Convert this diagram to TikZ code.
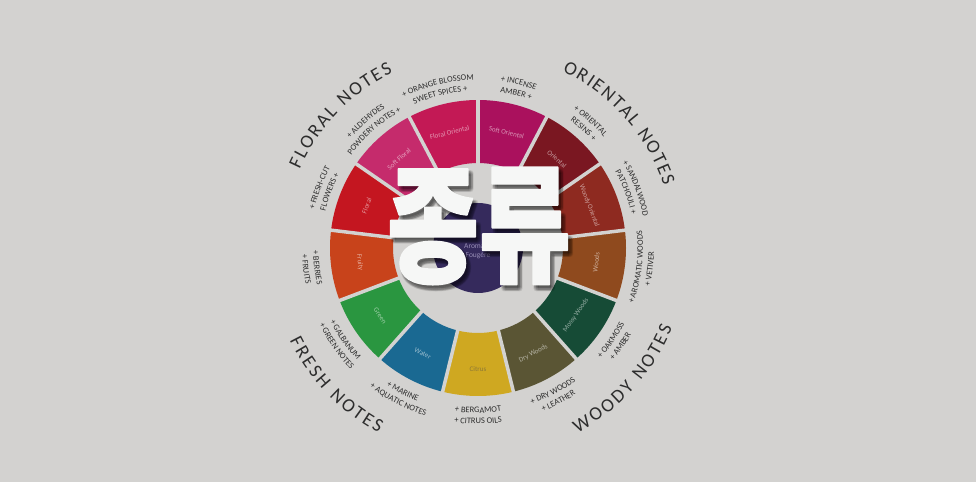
\documentclass[tikz,border=0pt]{standalone}
\usepackage{fontspec}
\setmainfont{Carlito}
\newfontfamily\cjk{Noto Sans CJK KR}[BoldFeatures={FakeBold=1.5}]
\usetikzlibrary{decorations.text}
\definecolor{bg}{RGB}{211,210,208}
\definecolor{cSoftOr}{RGB}{170,17,93}
\definecolor{cOr}{RGB}{122,23,33}
\definecolor{cWoodyOr}{RGB}{142,42,32}
\definecolor{cWoods}{RGB}{143,74,30}
\definecolor{cMossy}{RGB}{22,75,54}
\definecolor{cDry}{RGB}{90,85,52}
\definecolor{cCitrus}{RGB}{207,168,33}
\definecolor{cWater}{RGB}{26,105,146}
\definecolor{cGreen}{RGB}{42,150,64}
\definecolor{cFruity}{RGB}{200,67,27}
\definecolor{cFloral}{RGB}{196,22,32}
\definecolor{cSoftFl}{RGB}{197,43,108}
\definecolor{cFlOr}{RGB}{195,25,85}
\definecolor{cCenter}{RGB}{53,42,92}
\definecolor{inktext}{RGB}{45,45,45}
\definecolor{citruslab}{RGB}{140,120,55}
\definecolor{centerlab}{RGB}{150,140,180}
\definecolor{kwhite}{RGB}{246,247,246}
\newcommand\bigfont{\fontsize{19}{19}\selectfont}
\newcommand\smallfont{\fontsize{8.5}{9}\selectfont}
\newdimen\chw
\newdimen\totw
% letter widths measured once, outside the picture
\newcommand\storew[1]{\setbox0=\hbox{\bigfont #1}\expandafter\xdef\csname lw@\detokenize{#1}\endcsname{\the\wd0}}
\AtBeginDocument{\storew{A}\storew{D}\storew{E}\storew{F}\storew{H}\storew{I}\storew{L}\storew{N}\storew{O}\storew{R}\storew{S}\storew{T}\storew{W}\storew{Y}\storew{~}}
\newcommand\getw[1]{\chw=\csname lw@\detokenize\expandafter{#1}\endcsname\relax}
\tikzset{
  bigletter/.style={anchor=base, inner sep=0pt, font=\bigfont, text=inktext},
  seglabel/.style={font=\fontsize{7}{8}\selectfont, text=white, text opacity=0.55, inner sep=0pt},
  gapline/.style={bg, line width=3.5pt},
  korean/.style={font=\cjk\bfseries\fontsize{128}{128}\selectfont, inner sep=0pt, line join=round},
}
% big curved titles, letter by letter: #1 mid angle, #2 baseline radius, #3 dir, #4 tracking, #5 letters
\newcommand\arcletters[5]{%
  \global\totw=0pt
  \foreach \ch in {#5}{\getw{\ch}\global\advance\totw by \chw\global\advance\totw by #4pt}%
  \global\advance\totw by -#4pt
  \pgfmathsetmacro\tw{\totw}%
  \pgfmathsetmacro\startang{#1 - (#3)*\tw/2/#2*57.29578}%
  \xdef\curang{\startang}%
  \foreach \ch in {#5}{%
    \getw{\ch}%
    \pgfmathsetmacro\w{\chw}%
    \pgfmathsetmacro\midang{\curang + (#3)*\w/2/#2*57.29578}%
    \pgfmathsetmacro\rot{\midang + (#3)*90}%
    \node[bigletter, rotate=\rot] at (\midang:#2) {\ch};
    \pgfmathsetmacro\nx{\curang + (#3)*(\w+#4)/#2*57.29578}%
    \xdef\curang{\nx}%
  }%
}
% small curved two-line notes: #1 angle, #2 text line 1, #3 text line 2
\newcommand\toplab[3]{%
  \path[decorate, decoration={text along path, text={|\smallfont\color{inktext}|#2}, text align=center}]
    (#1+35:168) arc[start angle=#1+35, end angle=#1-35, radius=168];
  \path[decorate, decoration={text along path, text={|\smallfont\color{inktext}|#3}, text align=center}]
    (#1+35:157) arc[start angle=#1+35, end angle=#1-35, radius=157];
}
\newcommand\botlab[3]{%
  \path[decorate, decoration={text along path, text={|\smallfont\color{inktext}|#2}, text align=center}]
    (#1-35:165) arc[start angle=#1-35, end angle=#1+35, radius=165];
  \path[decorate, decoration={text along path, text={|\smallfont\color{inktext}|#3}, text align=center}]
    (#1-35:176) arc[start angle=#1-35, end angle=#1+35, radius=176];
}
\begin{document}
\begin{tikzpicture}[x=1pt,y=1pt]
\useasboundingbox (0,0) rectangle (976,482);
\fill[bg] (0,0) rectangle (976,482);
\begin{scope}[shift={(478,234)}]
  \coordinate (c) at (0,0);
  % segments
  \foreach \col [count=\k from 0] in {cSoftOr,cOr,cWoodyOr,cWoods,cMossy,cDry,cCitrus,cWater,cGreen,cFruity,cFloral,cSoftFl,cFlOr}{
    \pgfmathsetmacro\aa{90-\k*360/13}
    \pgfmathsetmacro\ab{\aa-360/13}
    \fill[\col] (\aa:148) arc[start angle=\aa, end angle=\ab, radius=148] -- (\ab:85) arc[start angle=\ab, end angle=\aa, radius=85] -- cycle;
  }
  \foreach \k in {0,...,12}{
    \pgfmathsetmacro\aa{90-\k*360/13}
    \draw[gapline] (\aa:83) -- (\aa:150);
  }
  % segment labels
  \node[seglabel, rotate=-13.85] (lSoftOr) at (76.15:119) {Soft Oriental};
  \node[seglabel, rotate=-41.54] (lOr) at (48.46:119) {Oriental};
  \node[seglabel, rotate=-69.23] (lWoodyOr) at (20.77:119) {Woody Oriental};
  \node[seglabel, rotate=83.08] (lWoods) at (-6.92:119) {Woods};
  \node[seglabel, rotate=55.38] (lMossy) at (-34.62:119) {Mossy Woods};
  \node[seglabel, rotate=27.69] (lDry) at (-62.31:119) {Dry Woods};
  \node[seglabel, text=citruslab, text opacity=1] (lCitrus) at (-90:121) {Citrus};
  \node[seglabel, rotate=-27.69] (lWater) at (-117.69:119) {Water};
  \node[seglabel, rotate=-55.38] (lGreen) at (-145.38:119) {Green};
  \node[seglabel, rotate=-83.08] (lFruity) at (-173.08:119) {Fruity};
  \node[seglabel, rotate=69.23] (lFloral) at (159.23:119) {Floral};
  \node[seglabel, rotate=41.54] (lSoftFl) at (131.54:119) {Soft Floral};
  \node[seglabel, rotate=13.85] (lFlOr) at (103.85:119) {Floral Oriental};
  % center
  \fill[cCenter] (c) circle[radius=45];
  \node[font=\fontsize{7.5}{9.5}\selectfont, text=centerlab, align=center, inner sep=0pt] (lAro) at (0,-3) {Aromatic\\Fougère};
  % notes
  \toplab{103.85}{+ ORANGE BLOSSOM}{SWEET SPICES +}
  \toplab{76.15}{+ INCENSE}{AMBER +}
  \toplab{48.46}{+ ORIENTAL}{RESINS +}
  \toplab{20.77}{+ SANDALWOOD}{PATCHOULI +}
  \botlab{-6.92}{+ AROMATIC WOODS}{+ VETIVER}
  \botlab{-34.62}{+ OAKMOSS}{+ AMBER}
  \botlab{-62.31}{+ DRY WOODS}{+ LEATHER}
  \botlab{-90}{+ BERGAMOT}{+ CITRUS OILS}
  \botlab{-117.69}{+ MARINE}{+ AQUATIC NOTES}
  \botlab{-145.38}{+ GALBANUM}{+ GREEN NOTES}
  \botlab{-173.08}{+ BERRIES}{+ FRUITS}
  \toplab{159.23}{+ FRESH-CUT}{FLOWERS +}
  \toplab{131.54}{+ ALDEHYDES}{POWDERY NOTES +}
  % titles
  \arcletters{136}{195}{-1}{2.0}{F,L,O,R,A,L,~,N,O,T,E,S}
  \arcletters{41.5}{196}{-1}{1.8}{O,R,I,E,N,T,A,L,~,N,O,T,E,S}
  \arcletters{-136}{210}{1}{2.5}{F,R,E,S,H,~,N,O,T,E,S}
  \arcletters{-42}{210}{1}{2.5}{W,O,O,D,Y,~,N,O,T,E,S}
\end{scope}
% big Korean title with soft shadow
\foreach \dx/\dy in {0/0,2/0,-2/0,0/2,0/-2,1.5/1.5,-1.5/1.5,1.5/-1.5,-1.5/-1.5}{
  \node[korean, text=black, text opacity=0.07] at (482+\dx,252+\dy) {\scalebox{0.78}[1]{종류}};
}
\node[korean, text=kwhite] (title) at (479,256) {\scalebox{0.78}[1]{종류}};
\end{tikzpicture}
\end{document}
